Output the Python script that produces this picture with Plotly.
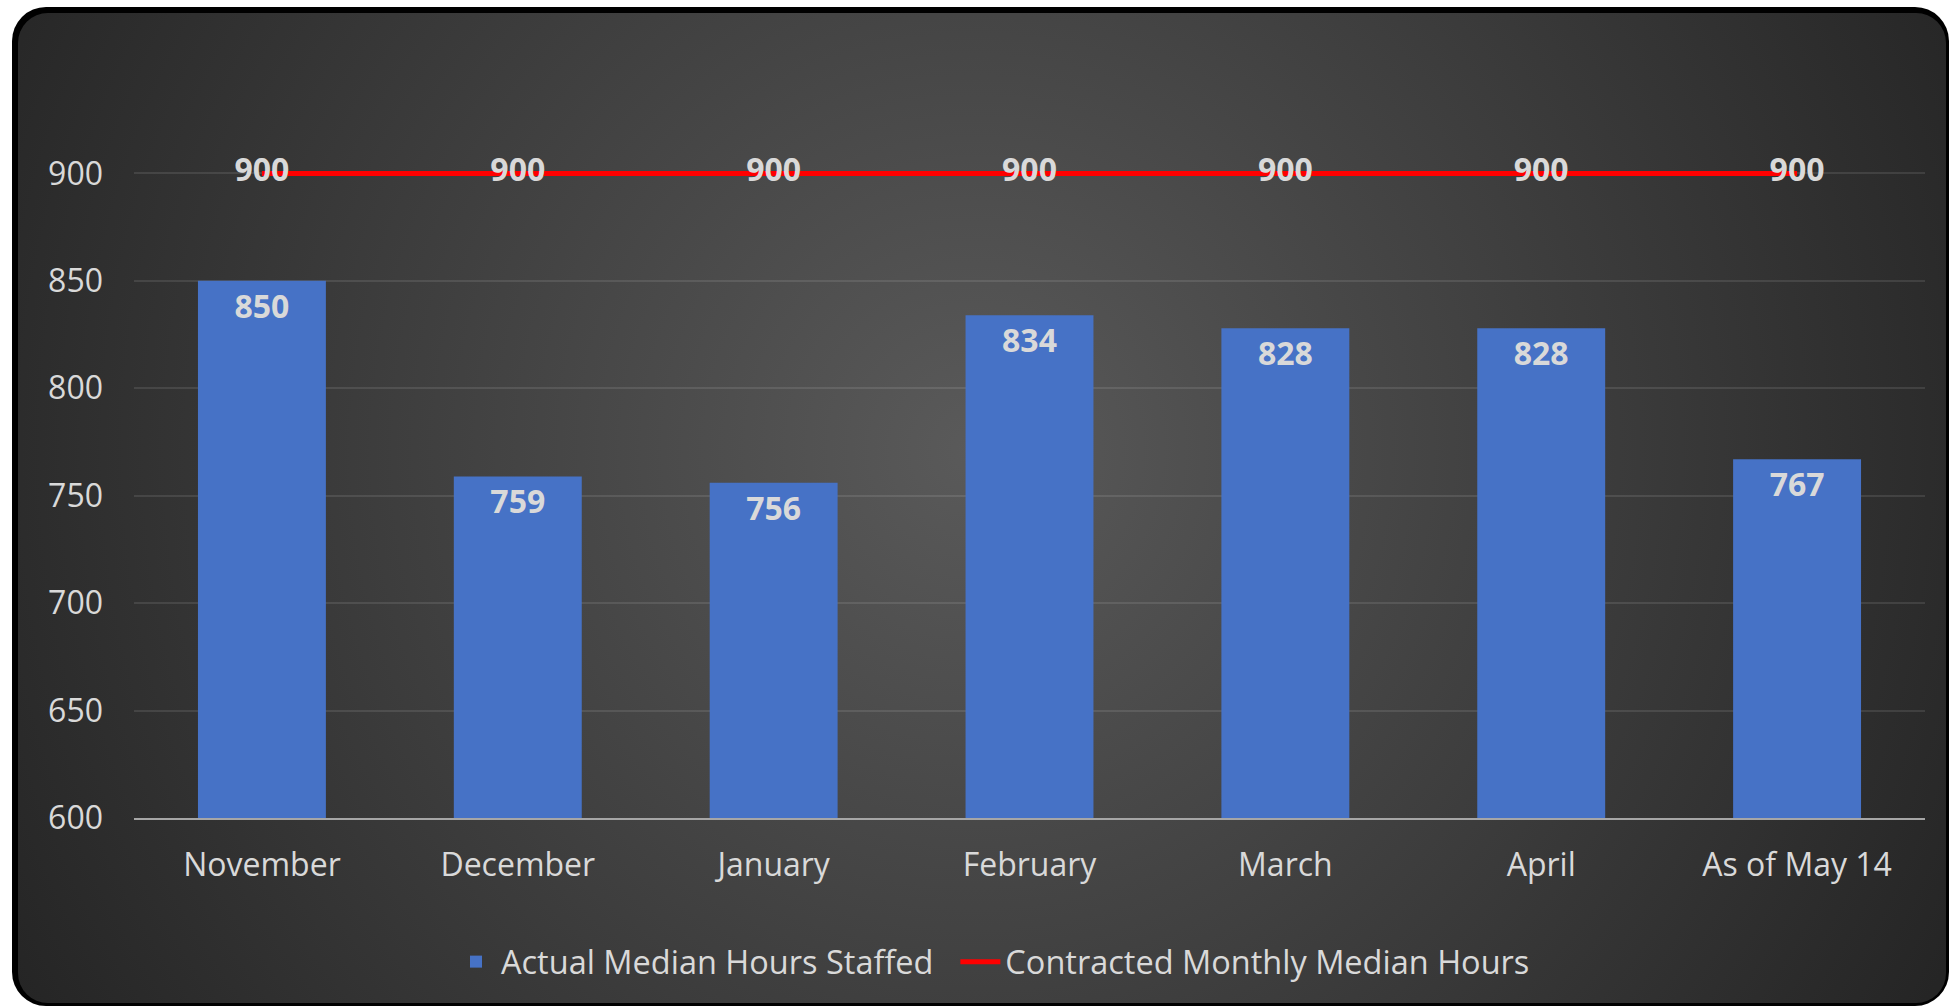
import base64
import plotly.graph_objects as go

# ---- data ----
categories = ["November", "December", "January", "February", "March", "April", "As of May 14"]
actual_hours = [850, 759, 756, 834, 828, 828, 767]
contracted_hours = [900, 900, 900, 900, 900, 900, 900]
y_ticks = [600, 650, 700, 750, 800, 850, 900]
series_names = ["Actual Median Hours Staffed", "Contracted Monthly Median Hours"]

W, H = 1950, 1007
ML, MR, MT, MB = 134, 25, 66, 189
PW, PH = W - ML - MR, H - MT - MB

TXT = "#d9d9d9"
FONT = "Open Sans"

# background: rounded dark panel with radial gradient
svg = f"""<svg xmlns='http://www.w3.org/2000/svg' width='{W}' height='{H}' viewBox='0 0 {W} {H}'>
<defs>
<radialGradient id='g' gradientUnits='userSpaceOnUse' cx='975' cy='450' r='1100'>
<stop offset='0' stop-color='#5a5a5a'/>
<stop offset='1' stop-color='#252525'/>
</radialGradient>
</defs>
<rect x='0' y='0' width='{W}' height='{H}' fill='#ffffff'/>
<rect x='12' y='7' width='1937' height='999' rx='34' ry='34' fill='#000000'/>
<rect x='18' y='13' width='1928' height='990' rx='30' ry='30' fill='url(#g)'/>
</svg>"""
src = "data:image/svg+xml;base64," + base64.b64encode(svg.encode()).decode()

fig = go.Figure()

fig.add_trace(go.Bar(
    x=categories, y=actual_hours, name=series_names[0] + "\u00a0\u00a0",
    marker=dict(color="#4672c6", line=dict(width=0)),
    text=[str(v) for v in actual_hours],
    textposition="inside", insidetextanchor="end", textangle=0,
    constraintext="none",
    insidetextfont=dict(family=FONT, size=32, color=TXT, weight="bold"),
    cliponaxis=False,
))

fig.add_trace(go.Scatter(
    x=categories, y=contracted_hours, name=series_names[1],
    mode="lines+text",
    line=dict(color="#ff0000", width=5),
    text=[str(v) for v in contracted_hours],
    textposition="middle center",
    textfont=dict(family=FONT, size=32, color=TXT, weight="bold"),
    cliponaxis=False,
))

fig.update_layout(
    width=W, height=H, autosize=False,
    margin=dict(l=ML, r=MR, t=MT, b=MB, pad=0),
    paper_bgcolor="#ffffff",
    plot_bgcolor="rgba(0,0,0,0)",
    font=dict(family=FONT, size=32, color=TXT),
    bargap=0.5,
    showlegend=True,
    legend=dict(
        orientation="h", x=(993 - ML) / PW, xanchor="center",
        y=-(962 - (H - MB)) / PH, yanchor="middle",
        bgcolor="rgba(0,0,0,0)", font=dict(family=FONT, size=32.5, color=TXT),
        traceorder="normal", itemwidth=40,
    ),
    images=[dict(
        source=src, xref="paper", yref="paper",
        x=-ML / PW, y=1 + MT / PH, sizex=W / PW, sizey=H / PH,
        xanchor="left", yanchor="top", sizing="stretch", layer="below",
    )],
)

fig.update_xaxes(
    showgrid=False, showline=True, linecolor="#a6a6a6", linewidth=2,
    ticks="", tickfont=dict(family=FONT, size=32, color=TXT),
    ticklabelstandoff=18, zeroline=False,
)
fig.update_yaxes(
    range=[600, 950], tickvals=y_ticks, ticktext=[str(v) for v in y_ticks],
    showgrid=True, gridcolor="rgba(255,255,255,0.10)", gridwidth=1.5,
    zeroline=False, showline=False, ticks="",
    tickfont=dict(family=FONT, size=32, color=TXT),
    ticklabelstandoff=30,
)

fig.write_html(
    "out.html",
    config={"displayModeBar": False},
    post_script="document.body.style.margin='0';document.body.style.overflow='hidden';",
)
